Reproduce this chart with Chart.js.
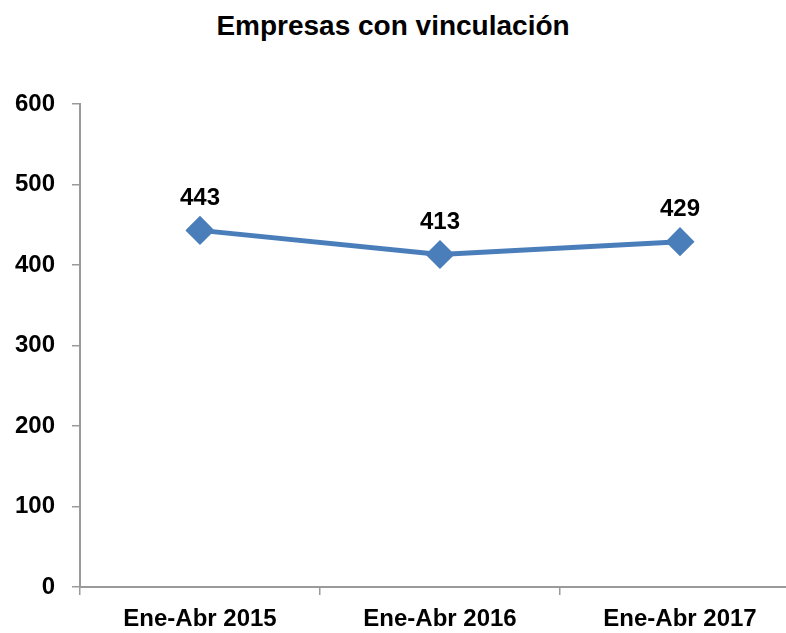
<!DOCTYPE html>
<html lang="es">
<head>
  <meta charset="UTF-8" />
  <title>Empresas con vinculación</title>
  <style>
    html, body { margin: 0; padding: 0; background: #fff; overflow: hidden; }
    #wrap { position: relative; width: 786px; height: 633px; overflow: hidden; }
    #title {
      position: absolute; left: 0; top: 10px; width: 786px; text-align: center;
      font: bold 28px "Liberation Sans", Arial, sans-serif; color: #000;
    }
    #chart { position: absolute; left: 0; top: 0; }
  </style>
</head>
<body>
<div id="wrap">
  <div id="title">Empresas con vinculación</div>
  <!-- a bit wider than the window: the last category band runs past the right edge -->
  <canvas id="chart" width="816" height="633"></canvas>
</div>

<script src="https://cdn.jsdelivr.net/npm/chart.js"></script>
<script>
const periods = ['Ene-Abr 2015', 'Ene-Abr 2016', 'Ene-Abr 2017'];
const empresas = [443, 413, 429];
const yTicks = [0, 100, 200, 300, 400, 500, 600];

const FONT = '"Liberation Sans", Arial, sans-serif';

// draws the value above each point
const valueLabels = {
  id: 'valueLabels',
  afterDatasetsDraw(chart) {
    const ctx = chart.ctx;
    const meta = chart.getDatasetMeta(0);
    ctx.save();
    ctx.font = 'bold 24px ' + FONT;
    ctx.fillStyle = '#000';
    ctx.textAlign = 'center';
    ctx.textBaseline = 'middle';
    meta.data.forEach((pt, i) => {
      ctx.fillText(chart.data.datasets[0].data[i], pt.x, pt.y - 32);
    });
    ctx.restore();
  }
};

new Chart(document.getElementById('chart'), {
  type: 'line',
  data: {
    labels: periods,
    datasets: [{
      data: empresas,
      borderColor: '#4A7EBB',
      backgroundColor: '#4A7EBB',
      borderWidth: 5,
      pointStyle: 'rectRot',
      pointRadius: 11,
      pointHoverRadius: 11,
      tension: 0
    }]
  },
  options: {
    responsive: false,
    animation: false,
    layout: { padding: { top: 104, right: 0, bottom: 0, left: 0 } },
    plugins: {
      legend: { display: false },
      tooltip: { enabled: false }
    },
    scales: {
      x: {
        offset: true,
        afterFit(s) { s.height = 46; s.paddingLeft = 0; s.paddingRight = 0; },
        grid: { offset: true, drawOnChartArea: false, drawTicks: true, tickLength: 8, color: '#9a9a9a', lineWidth: 1.5 },
        border: { display: true, color: '#9a9a9a', width: 2 },
        ticks: { color: '#000', font: { family: FONT, size: 24, weight: 'bold' }, padding: 10, maxRotation: 0 }
      },
      y: {
        min: 0,
        max: 600,
        afterBuildTicks(s) { s.ticks = yTicks.map(v => ({ value: v })); },
        afterFit(s) { s.width = 80; },
        grid: { drawOnChartArea: false, drawTicks: true, tickLength: 8, color: '#9a9a9a', lineWidth: 1.5 },
        border: { display: true, color: '#9a9a9a', width: 2 },
        ticks: { color: '#000', font: { family: FONT, size: 24, weight: 'bold' }, padding: 17 }
      }
    }
  },
  plugins: [valueLabels]
});
</script>
</body>
</html>
